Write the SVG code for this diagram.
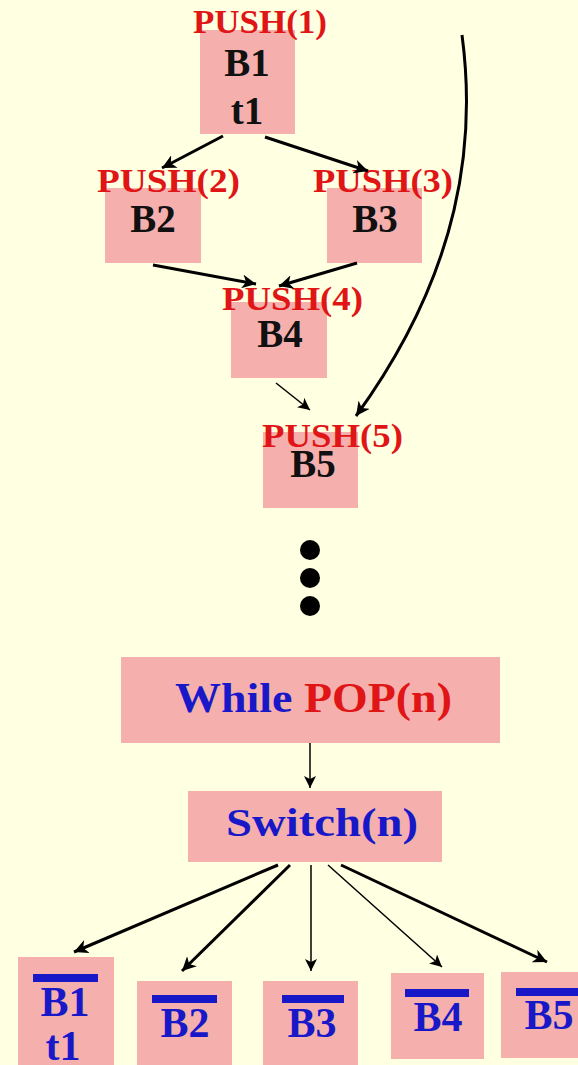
<svg xmlns="http://www.w3.org/2000/svg" width="578" height="1065" viewBox="0 0 578 1065">
  <style>
    .box { fill: #f5b0ae; }
    .lbl { font-family: "Liberation Serif", "Times New Roman", serif; font-weight: bold; }
    .push { fill: #e01515; font-size: 33px; }
    .blk { fill: #111111; font-size: 39px; text-anchor: middle; }
    .blu { fill: #1818c8; }
    .red { fill: #e01515; }
    .bar { fill: #1818c8; }
    .edge { fill: none; stroke: #000; stroke-width: 3; marker-end: url(#ah); }
    .thin { fill: none; stroke: #000; stroke-width: 1.5; marker-end: url(#ahs); }
  </style>
  <defs>
    <marker id="ah" markerUnits="userSpaceOnUse" markerWidth="16" markerHeight="14" refX="14" refY="7" orient="auto">
      <path d="M0,0 L14,7 L0,14 L4,7 Z" fill="#000"/>
    </marker>
    <marker id="ahs" markerUnits="userSpaceOnUse" markerWidth="14" markerHeight="12" refX="12" refY="6" orient="auto">
      <path d="M0,0 L12,6 L0,12 L3,6 Z" fill="#000"/>
    </marker>
  </defs>

  <rect width="578" height="1065" fill="#ffffe2"/>

  <!-- upper flow graph -->
  <g id="b1">
    <rect class="box" x="200" y="30" width="95" height="104"/>
    <text class="lbl push" x="193" y="33" textLength="134" lengthAdjust="spacingAndGlyphs">PUSH(1)</text>
    <text class="lbl blk" x="247" y="76">B1</text>
    <text class="lbl blk" x="247" y="124">t1</text>
  </g>
  <g id="b2">
    <rect class="box" x="105" y="188" width="96" height="75"/>
    <text class="lbl push" x="97" y="192" textLength="143" lengthAdjust="spacingAndGlyphs">PUSH(2)</text>
    <text class="lbl blk" x="153" y="232">B2</text>
  </g>
  <g id="b3">
    <rect class="box" x="327" y="188" width="95" height="75"/>
    <text class="lbl push" x="313" y="192" textLength="140" lengthAdjust="spacingAndGlyphs">PUSH(3)</text>
    <text class="lbl blk" x="375" y="232">B3</text>
  </g>
  <g id="b4">
    <rect class="box" x="231" y="302" width="96" height="76"/>
    <text class="lbl push" x="222" y="310" textLength="141" lengthAdjust="spacingAndGlyphs">PUSH(4)</text>
    <text class="lbl blk" x="280" y="347">B4</text>
  </g>
  <g id="b5">
    <rect class="box" x="263" y="432" width="95" height="76"/>
    <text class="lbl push" x="262" y="447" textLength="141" lengthAdjust="spacingAndGlyphs">PUSH(5)</text>
    <text class="lbl blk" x="313" y="477">B5</text>
  </g>

  <!-- ellipsis -->
  <g id="dots" fill="#000">
    <circle cx="310" cy="550" r="10"/>
    <circle cx="310" cy="578" r="10"/>
    <circle cx="310" cy="606" r="10"/>
  </g>

  <g id="while">
    <rect class="box" x="121" y="657" width="379" height="86"/>
    <text class="lbl" x="175" y="712" font-size="43" textLength="277" lengthAdjust="spacingAndGlyphs"><tspan class="blu">While </tspan><tspan class="red">POP(n)</tspan></text>
  </g>
  <g id="switch">
    <rect class="box" x="188" y="791" width="254" height="71"/>
    <text class="lbl blu" x="226" y="836" font-size="41" textLength="192" lengthAdjust="spacingAndGlyphs">Switch(n)</text>
  </g>

  <!-- handler blocks -->
  <g id="nb1">
    <rect class="box" x="18" y="957" width="96" height="108"/>
    <rect class="bar" x="33" y="974" width="65" height="8"/>
    <text class="lbl blu" x="65" y="1016" font-size="42" text-anchor="middle">B1</text>
    <text class="lbl blu" x="63" y="1060" font-size="42" text-anchor="middle">t1</text>
  </g>
  <g id="nb2">
    <rect class="box" x="137" y="981" width="95" height="84"/>
    <rect class="bar" x="152" y="995" width="65" height="8"/>
    <text class="lbl blu" x="185" y="1037" font-size="42" text-anchor="middle">B2</text>
  </g>
  <g id="nb3">
    <rect class="box" x="263" y="981" width="95" height="84"/>
    <rect class="bar" x="282" y="995" width="62" height="8"/>
    <text class="lbl blu" x="312" y="1037" font-size="42" text-anchor="middle">B3</text>
  </g>
  <g id="nb4">
    <rect class="box" x="391" y="973" width="93" height="86"/>
    <rect class="bar" x="405" y="989" width="64" height="8"/>
    <text class="lbl blu" x="438" y="1031" font-size="42" text-anchor="middle">B4</text>
  </g>
  <g id="nb5">
    <rect class="box" x="501" y="972" width="77" height="86"/>
    <rect class="bar" x="516" y="988" width="62" height="8"/>
    <text class="lbl blu" x="549" y="1029" font-size="42" text-anchor="middle">B5</text>
  </g>

  <!-- connectors -->
  <g id="edges">
    <path class="edge" d="M223,136 L162,168"/>
    <path class="edge" d="M265,137 L368,171"/>
    <path class="edge" d="M153,265 L256,284"/>
    <path class="edge" d="M357,263 L279,286"/>
    <path class="thin" d="M276,383 L310,410"/>
    <path class="edge" d="M462,35 C476,140 462,270 356,416"/>
    <path class="thin" d="M310,743 L310,788"/>
    <path class="edge" d="M278,865 L74,952"/>
    <path class="edge" d="M290,865 L182,971"/>
    <path class="thin" d="M311,865 L311,971" stroke-width="2"/>
    <path class="thin" d="M328,865 L442,967"/>
    <path class="edge" d="M341,865 L547,962"/>
  </g>
</svg>
